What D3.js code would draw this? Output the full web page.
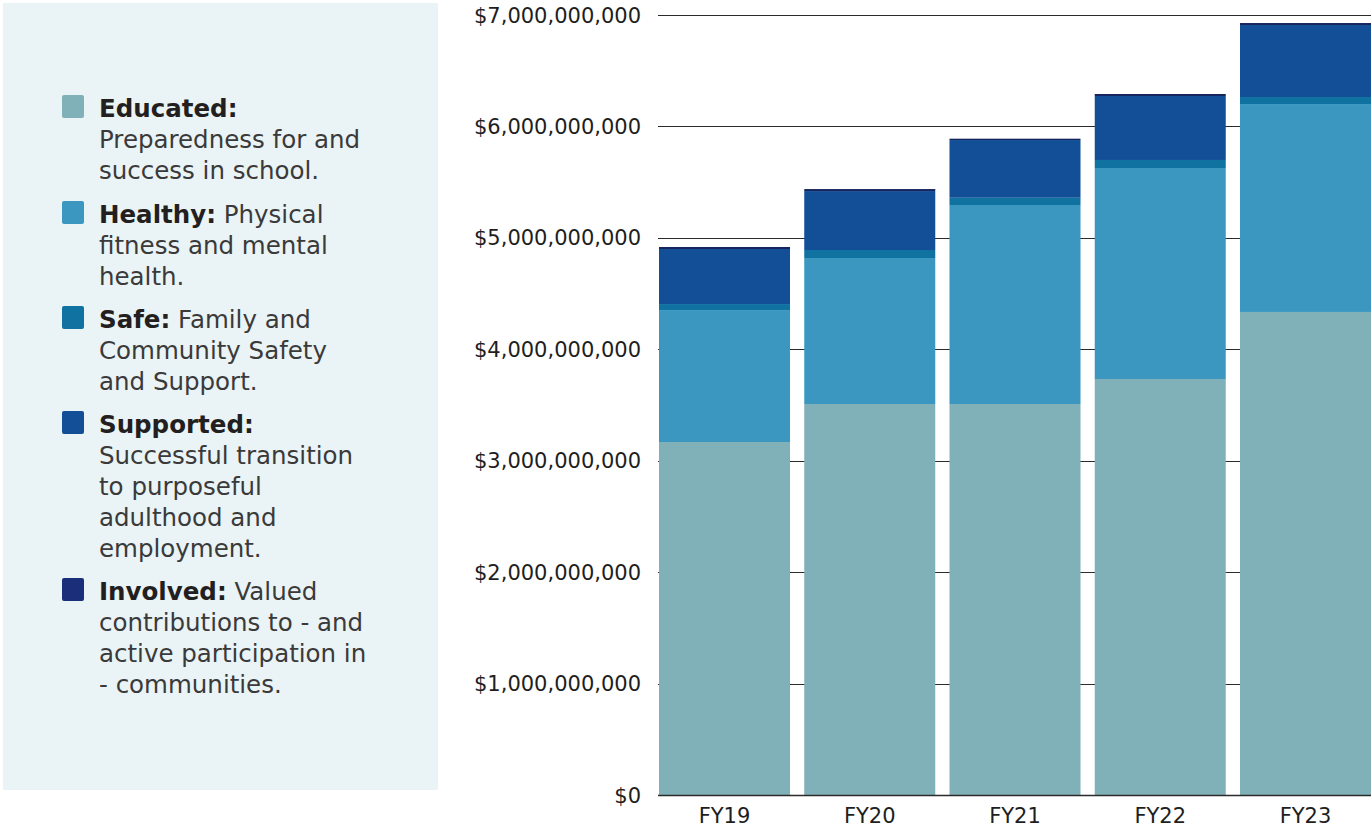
<!DOCTYPE html>
<html><head><meta charset="utf-8">
<script src="https://cdn.jsdelivr.net/npm/d3@7"></script>
<style>
html,body{margin:0;padding:0;background:#fff;}
svg{display:block;font-family:"DejaVu Sans","Noto Sans",sans-serif;}
</style></head>
<body><svg id="c" width="1371" height="829"></svg>
<script>
const categories = ["FY19","FY20","FY21","FY22","FY23"];
const seriesNames = ["Educated","Healthy","Safe","Supported","Involved"];
const educated  = [3.168e9, 3.509e9, 3.509e9, 3.733e9, 4.335e9];
const healthy   = [1.184e9, 1.310e9, 1.786e9, 1.894e9, 1.866e9];
const safe      = [0.054e9, 0.072e9, 0.065e9, 0.072e9, 0.063e9];
const supported = [0.494e9, 0.529e9, 0.518e9, 0.574e9, 0.646e9];
const involved  = [0.018e9, 0.018e9, 0.012e9, 0.018e9, 0.018e9];
const colors = ["#80B0B8","#3B97C0","#0F72A0","#124F96","#16255E"];
const swatchColors = ["#80B0B8","#3B97C0","#0F72A0","#124F96","#1B2E7A"];
const yTicks = [0,1e9,2e9,3e9,4e9,5e9,6e9,7e9];
const legendLines = [
  [["Educated:",""],["","Preparedness for and"],["","success in school."]],
  [["Healthy:"," Physical"],["","fitness and mental"],["","health."]],
  [["Safe:"," Family and"],["","Community Safety"],["","and Support."]],
  [["Supported:",""],["","Successful transition"],["","to purposeful"],["","adulthood and"],["","employment."]],
  [["Involved:"," Valued"],["","contributions to - and"],["","active participation in"],["","- communities."]]
];

const svg = d3.select("#c");
svg.append("rect").attr("x",3).attr("y",3).attr("width",435).attr("height",787).attr("fill","#EAF3F5");

const table = categories.map((c,i)=>({cat:c, Educated:educated[i], Healthy:healthy[i], Safe:safe[i], Supported:supported[i], Involved:involved[i]}));
const stack = d3.stack().keys(seriesNames)(table);

const x = d3.scaleBand().domain(categories).range([659,1371]).paddingInner(0.098).paddingOuter(0);
const y = d3.scaleLinear().domain([0,7e9]).range([795,15]);

svg.append("g").selectAll("line").data(yTicks).join("line")
  .attr("x1",658).attr("x2",1371).attr("y1",d=>Math.round(y(d))+0.5).attr("y2",d=>Math.round(y(d))+0.5)
  .attr("stroke","#2b2b2b").attr("stroke-width",1.2);

svg.append("g").selectAll("g").data(stack).join("g")
  .attr("fill",(d,i)=>colors[i])
  .selectAll("rect").data(d=>d).join("rect")
  .attr("x",d=>x(d.data.cat)).attr("width",x.bandwidth())
  .attr("y",d=>y(d[1])).attr("height",d=>y(d[0])-y(d[1]));

svg.append("line").attr("x1",658).attr("x2",1371).attr("y1",795.5).attr("y2",795.5).attr("stroke","#2b2b2b").attr("stroke-width",1.5);

const fmt = d=>"$"+d3.format(",")(d);
svg.append("g").selectAll("text").data(yTicks).join("text")
  .attr("x",641).attr("y",d=>y(d)+7.5).attr("text-anchor","end")
  .attr("font-size",21).attr("fill","#1e1e1e").text(fmt);

svg.append("g").selectAll("text").data(categories).join("text")
  .attr("x",d=>x(d)+x.bandwidth()/2).attr("y",823).attr("text-anchor","middle")
  .attr("font-size",21).attr("fill","#1e1e1e").text(d=>d);

const groupTops = [117,223,328,433,600];
const lg = svg.append("g");
legendLines.forEach((lines,gi)=>{
  lg.append("rect").attr("x",62).attr("y",groupTops[gi]-22).attr("width",22).attr("height",23)
    .attr("rx",2).attr("fill",swatchColors[gi]);
  lines.forEach((ln,li)=>{
    const t = lg.append("text").attr("x",99).attr("y",groupTops[gi]+li*31).attr("font-size",24.5).attr("fill","#3a3a3a");
    if(ln[0]) t.append("tspan").attr("font-weight","bold").attr("fill","#231F20").text(ln[0]);
    if(ln[1]) t.append("tspan").text(ln[1]);
  });
});
</script></body></html>
